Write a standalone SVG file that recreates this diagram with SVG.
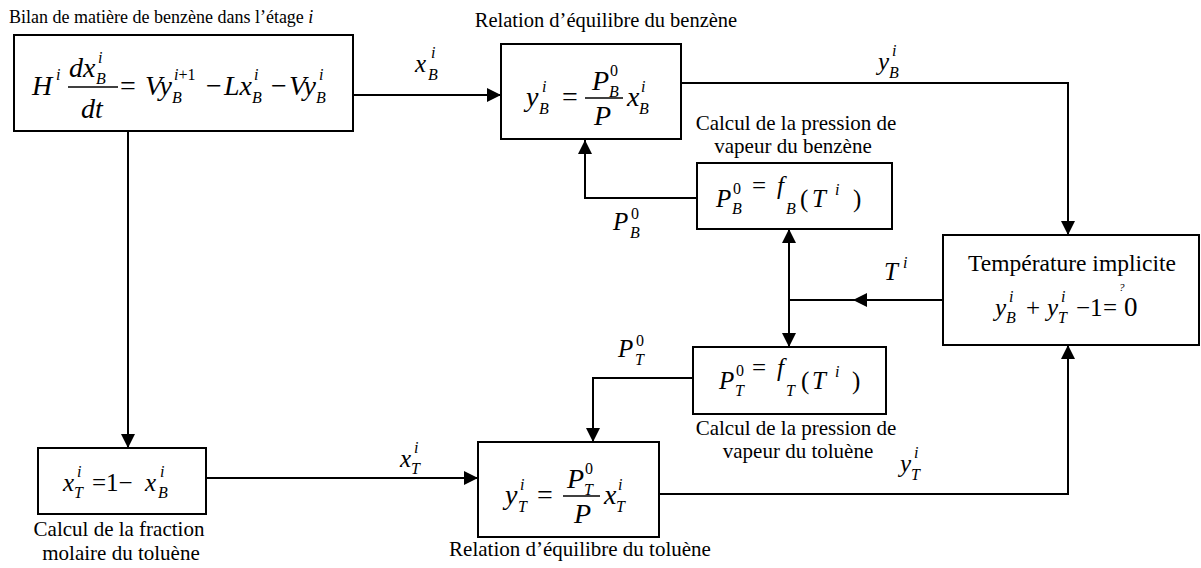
<svg xmlns="http://www.w3.org/2000/svg" width="1201" height="568" viewBox="0 0 1201 568">
<style>
text{font-family:"Liberation Serif","Times New Roman",serif;fill:#000}
.lbl{font-size:21px}
.m{font-style:italic;font-size:28px}
.ms{font-style:italic;font-size:25px}
.s{font-size:16px}
.u{font-style:normal}
.box{fill:#fff;stroke:#000;stroke-width:2}
.ln{fill:none;stroke:#000;stroke-width:2}
.bar{stroke:#000;stroke-width:1.5}
</style>
<defs>
<marker id="ar" markerUnits="userSpaceOnUse" markerWidth="14" markerHeight="14" refX="14" refY="7" orient="auto-start-reverse" viewBox="0 0 14 14">
<path d="M0,0 L14,7 L0,14 z" fill="#000"/>
</marker>
</defs>

<g id="connectors">
<path class="ln" d="M353,95 H501" marker-end="url(#ar)"/>
<path class="ln" d="M681,83 H1068 V235" marker-end="url(#ar)"/>
<path class="ln" d="M697,198 H585 V140" marker-end="url(#ar)"/>
<path class="ln" d="M943,300 H853" marker-end="url(#ar)"/>
<path class="ln" d="M853,300 H789"/>
<path class="ln" d="M789,229 V347" marker-start="url(#ar)" marker-end="url(#ar)"/>
<path class="ln" d="M693,378 H593 V442" marker-end="url(#ar)"/>
<path class="ln" d="M128,131 V448" marker-end="url(#ar)"/>
<path class="ln" d="M206,478 H478" marker-end="url(#ar)"/>
<path class="ln" d="M659,494 H1068 V345" marker-end="url(#ar)"/>
<text class="ms" x="415" y="72">x<tspan class="s" x="428" y="80">B</tspan><tspan class="s" x="431" y="58">i</tspan></text>
<text class="ms" x="878" y="70">y<tspan class="s" x="889" y="78">B</tspan><tspan class="s" x="892" y="56">i</tspan></text>
<text class="ms" x="613" y="230">P<tspan class="s" x="630" y="238">B</tspan><tspan class="s u" x="631" y="219">0</tspan></text>
<text class="ms" x="884" y="280">T<tspan class="s" x="903" y="268">i</tspan></text>
<text class="ms" x="618" y="357">P<tspan class="s" x="635" y="365">T</tspan><tspan class="s u" x="636" y="346">0</tspan></text>
<text class="ms" x="400" y="467">x<tspan class="s" x="411" y="474">T</tspan><tspan class="s" x="414" y="453">i</tspan></text>
<text class="ms" x="900" y="472">y<tspan class="s" x="911" y="480">T</tspan><tspan class="s" x="914" y="458">i</tspan></text>
</g>

<text class="lbl" x="9" y="23" style="font-size:18px">Bilan de matière de benzène dans l’étage <tspan font-style="italic">i</tspan></text>

<g id="bilan">
<rect class="box" x="14" y="35" width="339" height="96"/>
<text class="m" x="32" y="95">H<tspan class="s" x="56" y="80">i</tspan></text>
<text class="m" x="69" y="77">dx<tspan class="s" x="96" y="84">B</tspan><tspan class="s" x="98" y="63">i</tspan></text>
<line class="bar" x1="68" y1="87" x2="118" y2="87"/>
<text class="m" x="81" y="118">dt</text>
<text class="m u" x="120" y="95">=</text>
<text class="m" x="145" y="95">Vy<tspan class="s" x="172" y="103">B</tspan><tspan class="s" x="174" y="80">i<tspan class="u">+1</tspan></tspan></text>
<text class="m u" x="206" y="95">−</text>
<text class="m" x="224" y="95">Lx<tspan class="s" x="252" y="103">B</tspan><tspan class="s" x="254" y="80">i</tspan></text>
<text class="m u" x="271" y="95">−</text>
<text class="m" x="289" y="95">Vy<tspan class="s" x="316" y="103">B</tspan><tspan class="s" x="319" y="80">i</tspan></text>
</g>

<text class="lbl" x="606" y="27" text-anchor="middle" style="font-size:20.5px">Relation d’équilibre du benzène</text>
<g id="eq-benzene">
<rect class="box" x="501" y="44" width="180" height="95"/>
<text class="m" x="526" y="106">y<tspan class="s" x="539" y="114">B</tspan><tspan class="s" x="542" y="92">i</tspan></text>
<text class="m u" x="562" y="106">=</text>
<text class="m" x="592" y="90">P<tspan class="s" x="609" y="97">B</tspan><tspan class="s u" x="610" y="76">0</tspan></text>
<line class="bar" x1="585" y1="98" x2="623" y2="98"/>
<text class="m" x="594" y="125">P</text>
<text class="m" x="627" y="106">x<tspan class="s" x="639" y="114">B</tspan><tspan class="s" x="641" y="92">i</tspan></text>
</g>

<text class="lbl" x="796" y="130" text-anchor="middle">Calcul de la pression de</text>
<text class="lbl" x="793" y="153" text-anchor="middle">vapeur du benzène</text>
<g id="pb">
<rect class="box" x="697" y="163" width="195" height="66"/>
<text class="ms" x="716" y="207">P<tspan class="s" x="732" y="214">B</tspan><tspan class="s u" x="733" y="194">0</tspan><tspan class="u" x="752">=</tspan><tspan x="777">f</tspan><tspan class="s" x="786" y="214">B</tspan><tspan class="u" x="800" y="207">(</tspan><tspan x="812">T</tspan><tspan class="s" x="835" y="195">i</tspan><tspan class="u" x="853" y="207">)</tspan></text>
</g>

<g id="temperature">
<rect class="box" x="943" y="235" width="256" height="110"/>
<text class="lbl" x="1072" y="271" text-anchor="middle" style="font-size:23.5px">Température implicite</text>
<text class="ms" x="995" y="316">y<tspan class="s" x="1006" y="323">B</tspan><tspan class="s" x="1009" y="302">i</tspan><tspan class="u" x="1026" y="316">+</tspan><tspan x="1047">y</tspan><tspan class="s" x="1058" y="323">T</tspan><tspan class="s" x="1061" y="302">i</tspan><tspan class="u" x="1076" y="316">−1</tspan><tspan class="u" x="1103">=</tspan><tspan class="u" x="1124" style="font-size:27px">0</tspan><tspan style="font-size:11px" x="1119" y="291">?</tspan></text>
</g>

<g id="pt">
<rect class="box" x="693" y="347" width="193" height="67"/>
<text class="ms" x="719" y="389">P<tspan class="s" x="735" y="396">T</tspan><tspan class="s u" x="736" y="376">0</tspan><tspan class="u" x="752">=</tspan><tspan x="777">f</tspan><tspan class="s" x="786" y="396">T</tspan><tspan class="u" x="801" y="389">(</tspan><tspan x="812">T</tspan><tspan class="s" x="835" y="377">i</tspan><tspan class="u" x="852" y="389">)</tspan></text>
</g>
<text class="lbl" x="796" y="435" text-anchor="middle">Calcul de la pression de</text>
<text class="lbl" x="798" y="458" text-anchor="middle">vapeur du toluène</text>

<g id="xt">
<rect class="box" x="38" y="448" width="168" height="66"/>
<text class="ms" x="63" y="491">x<tspan class="s" x="74" y="498">T</tspan><tspan class="s" x="77" y="477">i</tspan><tspan class="u" x="92" y="491">=1−</tspan><tspan x="145">x</tspan><tspan class="s" x="158" y="498">B</tspan><tspan class="s" x="160" y="477">i</tspan></text>
</g>
<text class="lbl" x="119" y="536" text-anchor="middle">Calcul de la fraction</text>
<text class="lbl" x="121" y="560" text-anchor="middle">molaire du toluène</text>

<g id="eq-toluene">
<rect class="box" x="478" y="442" width="181" height="95"/>
<text class="m" x="505" y="504">y<tspan class="s" x="518" y="512">T</tspan><tspan class="s" x="520" y="490">i</tspan></text>
<text class="m u" x="537" y="504">=</text>
<text class="m" x="567" y="488">P<tspan class="s" x="584" y="495">T</tspan><tspan class="s u" x="585" y="474">0</tspan></text>
<line class="bar" x1="563" y1="496" x2="600" y2="496"/>
<text class="m" x="574" y="523">P</text>
<text class="m" x="604" y="504">x<tspan class="s" x="616" y="512">T</tspan><tspan class="s" x="618" y="490">i</tspan></text>
</g>
<text class="lbl" x="580" y="556" text-anchor="middle">Relation d’équilibre du toluène</text>
</svg>
